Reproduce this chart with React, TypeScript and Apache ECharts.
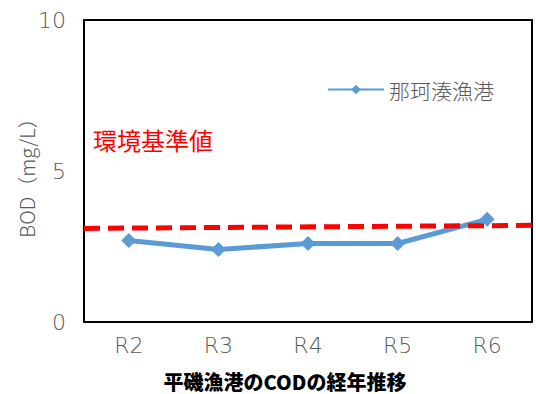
import React, { useEffect, useRef } from "react";
import * as echarts from "echarts";

const categories = ["R2", "R3", "R4", "R5", "R6"];
const bodValues = [2.7, 2.4, 2.6, 2.6, 3.4];
const seriesName = "那珂湊漁港";
const envStandardEnds = [3.1, 3.2];
const envLabel = "環境基準値";
const yTicks = [0, 5, 10];
const yTitle = "BOD（mg/L）";
const chartTitle = "平磯漁港のCODの経年推移";

const FONT = '"Noto Sans CJK JP", "Noto Sans", sans-serif';
const NUMFONT = '"DejaVu Sans", "Noto Sans", sans-serif';
const GRAY = "#595959";

export default function App() {
  const ref = useRef<HTMLDivElement>(null);
  useEffect(() => {
    if (!ref.current) return;
    const chart = echarts.init(ref.current, null, { renderer: "svg" });
    chart.setOption({
      animation: false,
      backgroundColor: "#fff",
      textStyle: { fontFamily: FONT },
      title: {
        text: chartTitle,
        left: 280,
        textAlign: "center",
        top: 366,
        textStyle: { fontSize: 20, fontWeight: 900, color: "#000", fontFamily: FONT },
      },
      legend: {
        data: [seriesName],
        left: 322,
        top: 74,
        itemWidth: 56,
        itemHeight: 12,
        textStyle: { fontSize: 21, color: GRAY, fontFamily: FONT, fontWeight: 300 },
      },
      grid: {
        left: 84,
        top: 20,
        right: 4,
        bottom: 72,
        show: true,
        borderColor: "#000",
        borderWidth: 2,
      },
      xAxis: [
        {
          type: "category",
          data: categories,
          boundaryGap: true,
          axisLine: { show: false },
          axisTick: { show: false },
          axisLabel: { fontSize: 22, color: GRAY, margin: 12, fontFamily: NUMFONT, fontWeight: 300 },
        },
        {
          type: "value",
          min: 0,
          max: 1,
          show: false,
        },
      ],
      yAxis: {
        type: "value",
        min: yTicks[0],
        max: yTicks[yTicks.length - 1],
        interval: 5,
        axisLine: { show: false },
        axisTick: { show: false },
        splitLine: { show: false },
        axisLabel: { fontSize: 22, color: GRAY, margin: 18, fontFamily: NUMFONT, fontWeight: 300 },
      },
      graphic: [
        {
          type: "text",
          x: 26,
          y: 173,
          rotation: Math.PI / 2,
          style: {
            text: yTitle,
            fontSize: 20,
            fontWeight: 300,
            fill: GRAY,
            fontFamily: FONT,
            align: "center",
            verticalAlign: "middle",
          },
        },
        {
          type: "text",
          left: 93,
          top: 127,
          style: { text: envLabel, fontSize: 24, fill: "#ff0000", fontFamily: FONT },
        },
      ],
      series: [
        {
          name: "env",
          type: "line",
          xAxisIndex: 1,
          data: [
            [0, envStandardEnds[0]],
            [1, envStandardEnds[1]],
          ],
          symbol: "none",
          lineStyle: { color: "#ff0000", width: 5, type: [16, 8] },
          z: 3,
          silent: true,
        },
        {
          name: seriesName,
          type: "line",
          data: bodValues,
          symbol: "diamond",
          symbolSize: 15,
          itemStyle: { color: "#5b9bd5" },
          lineStyle: { color: "#5b9bd5", width: 5 },
          z: 2,
        },
      ],
    });
    return () => chart.dispose();
  }, []);
  return (
    <div
      ref={ref}
      style={{ position: "absolute", left: 0, top: 0, width: 536, height: 394 }}
    />
  );
}
